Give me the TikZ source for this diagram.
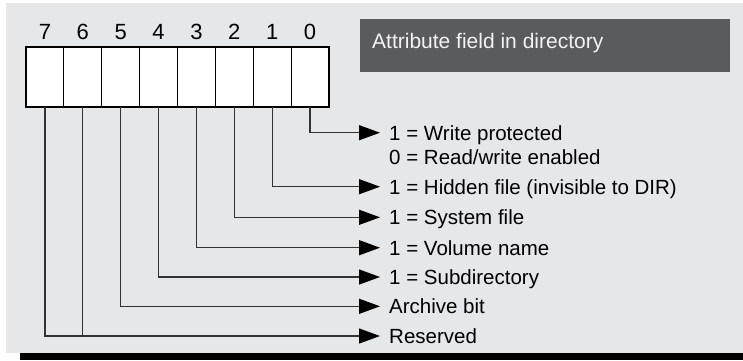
\documentclass[tikz,border=0pt]{standalone}
\usepackage{fontspec}
\setmainfont{Liberation Sans}
\usetikzlibrary{arrows.meta}
\definecolor{bg}{HTML}{E6E7E9}
\definecolor{titlebg}{HTML}{5A5B5D}
\definecolor{titlefg}{HTML}{F2F2F2}
\definecolor{wire}{HTML}{333333}
\tikzset{
  cell/.style={draw=black, line width=1.2pt, fill=white, minimum width=37.875pt, minimum height=60pt, inner sep=0pt, outer sep=0pt},
  bitnum/.style={anchor=base, inner sep=0pt, font=\fontsize{22}{26}\selectfont},
  lbl/.style={anchor=base west, inner sep=0pt, font=\fontsize{20.5}{24}\selectfont},
  wirearrow/.style={draw=wire, line width=1.2pt, -{Triangle[length=21pt,width=15pt,fill=black,color=black]}},
  wireplain/.style={draw=wire, line width=1.2pt},
}
\begin{document}
\begin{tikzpicture}[x=1pt,y=-1pt]
\useasboundingbox (0,0) rectangle (743,360);
% background
\fill[bg] (6,3) rectangle (743,353);
\fill[black] (20,353) rectangle (743,360);
% title
\fill[titlebg] (360,19) rectangle (730,72);
\node[anchor=base west, inner sep=0pt, text=titlefg, font=\fontsize{21}{25}\selectfont] (title) at (372,48) {Attribute field in directory};
% cells
\foreach \i in {0,...,7} {
  \node[cell] (c\i) at ({26+(7-\i+0.5)*37.875},77) {};
  \node[bitnum] (n\i) at ({26+(7-\i+0.5)*37.875},39.3) {\i};
}
% arrow targets
\coordinate (t0) at (380,132.7);
\coordinate (t1) at (380,186.7);
\coordinate (t2) at (380,217.3);
\coordinate (t3) at (380,247.7);
\coordinate (t4) at (380,277);
\coordinate (t5) at (380,306.3);
\coordinate (t6) at (380,336);
% connectors
\foreach \i in {0,...,6} {
  \draw[wirearrow] (c\i.south) |- (t\i);
}
\draw[wireplain] (c7.south) |- (c6.south |- t6);
% labels
\node[lbl] (l0) at (389,140.2) {1 = Write protected};
\node[lbl] (l0b) at (389,164.5) {0 = Read/write enabled};
\node[lbl] (l1) at (389,194.2) {1 = Hidden file (invisible to DIR)};
\node[lbl] (l2) at (389,224.8) {1 = System file};
\node[lbl] (l3) at (389,255.2) {1 = Volume name};
\node[lbl] (l4) at (389,284.5) {1 = Subdirectory};
\node[lbl] (l5) at (389,313.8) {Archive bit};
\node[lbl] (l6) at (389,343.5) {Reserved};
\end{tikzpicture}
\end{document}
